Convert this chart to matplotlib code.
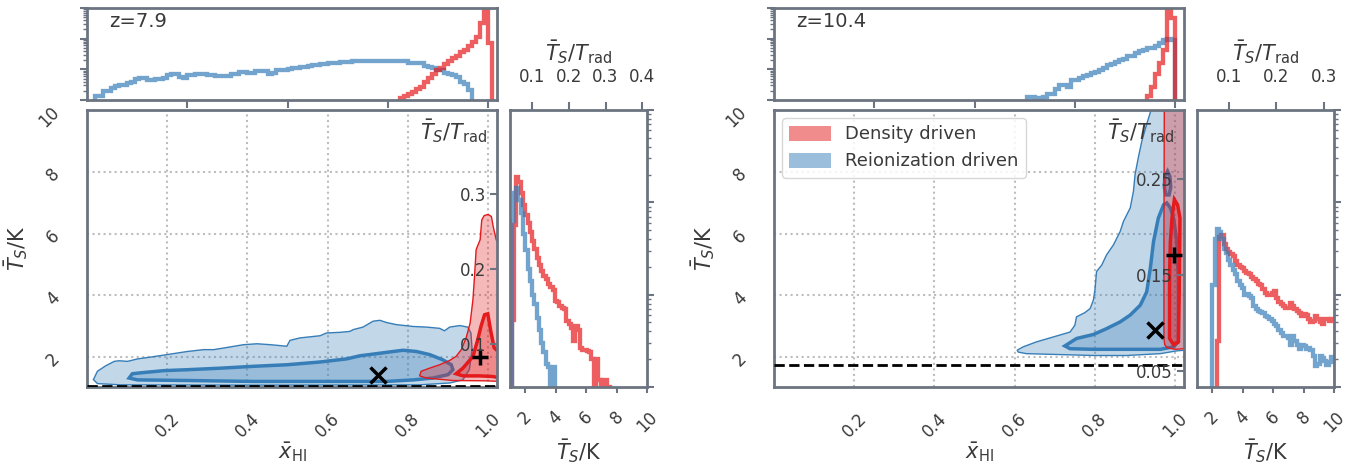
import numpy as np
import matplotlib
matplotlib.use('Agg')
import matplotlib.pyplot as plt
from matplotlib.patches import Patch
from matplotlib.colors import to_rgba

# ---------------------------------------------------------------- data
redshifts = [7.9, 10.4]
z_labels = ['z=7.9', 'z=10.4']
T_cmb0 = 2.725
dashed_T = [1.07, 1.73]

xHI_ticks = [0.2, 0.4, 0.6, 0.8, 1.0]
TS_ticks = [2, 4, 6, 8, 10]
top_ticks = [0.25, 0.5, 0.75, 1.0]
ratio_ticks_main = [[0.1, 0.2, 0.3], [0.05, 0.15, 0.25]]
ratio_ticks_hist = [[0.1, 0.2, 0.3, 0.4], [0.1, 0.2, 0.3]]

series_names = ['Density driven', 'Reionization driven']

# best-fit markers (x = reionization driven, + = density driven)
cross_xHI = [0.726, 0.950]
cross_TS = [1.43, 2.87]
plus_xHI = [0.980, 0.996]
plus_TS = [2.00, 5.31]

# ---- 2D credible contours (outer = 95%, inner = 68%), z = 7.9
z79_blue_outer_x = [0.016, 0.026, 0.047, 0.068, 0.080, 0.101, 0.126, 0.159, 0.200, 0.225, 0.250, 0.291,
                    0.316, 0.349, 0.390, 0.424, 0.457, 0.498, 0.506, 0.531, 0.581, 0.597, 0.630, 0.655,
                    0.664, 0.688, 0.713, 0.730, 0.746, 0.771, 0.813, 0.846, 0.879, 0.891, 0.904, 0.929,
                    0.949, 0.957, 0.960, 0.953, 0.937, 0.904, 0.829, 0.415, 0.084, 0.026]
z79_blue_outer_T = [1.27, 1.54, 1.72, 1.86, 1.88, 1.86, 1.94, 2.00, 2.08, 2.13, 2.18, 2.24,
                    2.24, 2.31, 2.40, 2.43, 2.40, 2.35, 2.54, 2.62, 2.69, 2.78, 2.80, 2.83,
                    2.89, 2.97, 3.16, 3.19, 3.12, 3.05, 2.99, 2.97, 2.93, 2.85, 2.97, 3.02,
                    2.97, 2.78, 2.24, 1.59, 1.26, 1.16, 1.10, 1.09, 1.10, 1.14]
z79_blue_inner_x = [0.105, 0.113, 0.142, 0.192, 0.250, 0.333, 0.415, 0.498, 0.581, 0.647, 0.680, 0.722,
                    0.763, 0.788, 0.821, 0.854, 0.887, 0.908, 0.912, 0.900, 0.862, 0.813, 0.746, 0.581,
                    0.415, 0.250, 0.126]
z79_blue_inner_T = [1.32, 1.46, 1.50, 1.56, 1.59, 1.64, 1.70, 1.75, 1.84, 1.94, 2.04, 2.11,
                    2.18, 2.22, 2.18, 2.08, 1.91, 1.75, 1.59, 1.43, 1.32, 1.26, 1.21, 1.21,
                    1.21, 1.24, 1.26]
z79_red_outer_x = [0.829, 0.833, 0.854, 0.879, 0.904, 0.920, 0.933, 0.945, 0.955, 0.962, 0.966, 0.970,
                   0.980, 0.984, 0.990, 1.000, 1.008, 1.013, 1.020, 1.050, 1.050, 0.995, 0.912, 0.846]
z79_red_outer_T = [1.39, 1.54, 1.64, 1.75, 1.89, 2.02, 2.24, 2.62, 3.10, 3.86, 4.62, 5.48,
                   5.80, 6.44, 6.58, 6.62, 6.55, 6.20, 5.80, 5.00, 1.20, 1.23, 1.24, 1.32]
z79_red_inner_x = [0.920, 0.937, 0.962, 0.974, 0.982, 0.991, 0.999, 1.007, 1.015, 1.040, 1.040, 1.011,
                   0.978, 0.937]
z79_red_inner_T = [1.46, 1.64, 2.02, 2.56, 2.99, 3.37, 3.40, 2.80, 2.30, 2.00, 1.30, 1.37,
                   1.39, 1.39]

# ---- 2D credible contours, z = 10.4
z104_blue_outer_x = [0.606, 0.621, 0.654, 0.696, 0.738, 0.750, 0.754, 0.775, 0.788, 0.796, 0.800, 0.804,
                     0.817, 0.829, 0.846, 0.863, 0.871, 0.888, 0.896, 0.900, 0.908, 0.917, 0.929, 0.938,
                     0.942, 1.050, 1.050, 1.004, 0.963, 0.879, 0.796, 0.713, 0.629, 0.609]
z104_blue_outer_T = [2.22, 2.33, 2.49, 2.65, 2.81, 3.03, 3.30, 3.44, 3.57, 3.84, 4.17, 4.77,
                     4.98, 5.31, 5.63, 6.07, 6.39, 6.83, 7.37, 7.91, 8.45, 9.00, 9.54, 9.92,
                     10.50, 10.50, 2.25, 2.20, 2.11, 2.05, 2.05, 2.08, 2.11, 2.16]
z104_blue_inner_x = [0.725, 0.754, 0.796, 0.829, 0.863, 0.888, 0.913, 0.929, 0.938, 0.946, 0.958, 0.971,
                     0.979, 0.988, 0.996, 1.004, 1.008, 1.008, 0.996, 0.963, 0.879, 0.796, 0.738]
z104_blue_inner_T = [2.36, 2.60, 2.73, 2.92, 3.14, 3.36, 3.68, 4.11, 4.87, 5.74, 6.50, 6.93,
                     6.99, 6.83, 6.50, 5.74, 4.50, 2.50, 2.33, 2.25, 2.25, 2.25, 2.27]
z104_blue_island_x = [0.981, 0.987, 0.989, 0.985, 0.977, 0.973, 0.974]
z104_blue_island_T = [8.02, 7.85, 7.50, 7.25, 7.25, 7.50, 7.85]
z104_red_outer_x = [0.973, 0.972, 0.972, 0.974, 0.980, 1.000, 1.050, 1.050]
z104_red_outer_T = [10.50, 6.00, 2.60, 2.40, 2.30, 2.25, 2.30, 10.50]
z104_red_inner_x = [0.986, 0.986, 0.988, 0.992, 0.998, 1.006, 1.012, 1.010, 1.008, 0.996]
z104_red_inner_T = [2.60, 4.66, 5.74, 6.50, 7.10, 6.93, 6.50, 4.00, 2.49, 2.40]

# ---- marginal histograms of x_HI (bin width 0.01), log10 of counts
xHI_bin_width = 0.01
z79_xHI_blue_start = 0.02
z79_xHI_blue_log = [0.14, 0.14, 0.29, 0.29, 0.40, 0.45, 0.48, 0.50, 0.55, 0.58,
                    0.70, 0.72, 0.72, 0.66, 0.64, 0.68, 0.70, 0.72, 0.81, 0.86,
                    0.85, 0.74, 0.73, 0.80, 0.82, 0.86, 0.85, 0.86, 0.81, 0.80,
                    0.79, 0.78, 0.77, 0.79, 0.84, 0.86, 0.92, 0.90, 0.89, 0.88,
                    0.94, 0.95, 0.93, 0.86, 0.88, 0.97, 0.97, 0.98, 1.00, 1.03,
                    1.05, 1.09, 1.09, 1.10, 1.14, 1.15, 1.17, 1.18, 1.22, 1.22,
                    1.22, 1.24, 1.24, 1.25, 1.28, 1.28, 1.27, 1.26, 1.26, 1.27,
                    1.26, 1.26, 1.27, 1.26, 1.28, 1.28, 1.28, 1.27, 1.22, 1.22,
                    1.20, 1.20, 1.12, 1.09, 1.05, 0.97, 0.97, 0.88, 0.84, 0.82,
                    0.75, 0.60, 0.53, 0.31]
z79_xHI_red_start = 0.78
z79_xHI_red_log = [0.05, 0.14, 0.18, 0.25, 0.35, 0.42, 0.59, 0.72, 0.85, 0.98, 1.05, 1.17,
                   1.26, 1.38, 1.45, 1.55, 1.62, 1.75, 1.88, 2.05, 2.50, 3.30, 1.86]
z104_xHI_blue_start = 0.63
z104_xHI_blue_log = [0.09, 0.09, 0.05, 0.05, 0.11, 0.20, 0.20, 0.37, 0.48, 0.48, 0.42, 0.64,
                     0.64, 0.73, 0.78, 0.81, 0.89, 0.90, 0.97, 1.05, 1.14, 1.16, 1.25, 1.30,
                     1.33, 1.44, 1.45, 1.53, 1.60, 1.64, 1.69, 1.70, 1.75, 1.86, 1.95, 1.99, 1.97]
z104_xHI_red_start = 0.93
z104_xHI_red_log = [0.14, 0.42, 0.86, 1.20, 1.64, 3.40, 2.69]

# ---- marginal histograms of T_S (bin width 0.15 K), log10 of counts
TS_bin_width = 0.15
z79_TS_blue_start = 1.10
z79_TS_blue_log = [1.80, 2.10, 2.16, 2.02, 1.88, 1.66, 1.48, 1.28, 1.15, 1.00, 0.90, 0.75,
                   0.62, 0.48, 0.38, 0.25, 0.22, 0.00, 0.22]
z79_TS_red_start = 1.10
z79_TS_red_log = [0.73, 1.75, 2.27, 2.22, 2.10, 1.97, 1.86, 1.78, 1.68, 1.58, 1.50, 1.40,
                  1.32, 1.26, 1.20, 1.17, 1.12, 1.08, 1.05, 0.93, 0.92, 0.88, 0.86, 0.84,
                  0.72, 0.68, 0.64, 0.50, 0.66, 0.62, 0.42, 0.40, 0.40, 0.39, 0.38, 0.30,
                  0.00, 0.30, 0.08, 0.00, 0.08, 0.08, 0.00]
z104_TS_blue_start = 2.00
z104_TS_blue_log = [1.10, 1.60, 1.71, 1.68, 1.60, 1.50, 1.45, 1.38, 1.32, 1.27, 1.22, 1.15,
                    1.10, 1.07, 1.00, 1.01, 0.99, 0.96, 0.88, 0.84, 0.82, 0.81, 0.80, 0.77,
                    0.76, 0.74, 0.72, 0.68, 0.66, 0.62, 0.59, 0.55, 0.55, 0.53, 0.45, 0.55,
                    0.50, 0.46, 0.41, 0.45, 0.44, 0.41, 0.42, 0.40, 0.34, 0.23, 0.25, 0.34,
                    0.31, 0.28, 0.24, 0.27, 0.33, 0.30]
z104_TS_red_start = 2.30
z104_TS_red_log = [0.50, 1.62, 1.65, 1.55, 1.50, 1.46, 1.44, 1.42, 1.36, 1.32, 1.30, 1.29,
                   1.26, 1.24, 1.22, 1.19, 1.17, 1.15, 1.12, 1.10, 1.06, 1.02, 1.00, 1.00,
                   1.02, 1.04, 0.96, 0.92, 0.90, 0.88, 0.86, 0.86, 0.91, 0.88, 0.84, 0.82,
                   0.80, 0.77, 0.79, 0.78, 0.74, 0.70, 0.72, 0.77, 0.74, 0.70, 0.68, 0.74,
                   0.74, 0.72, 0.74, 0.74]

panels = [
    dict(blue_outer=(z79_blue_outer_x, z79_blue_outer_T), blue_inner=(z79_blue_inner_x, z79_blue_inner_T),
         blue_islands=[],
         red_outer=(z79_red_outer_x, z79_red_outer_T), red_inner=(z79_red_inner_x, z79_red_inner_T),
         xhi_blue=(z79_xHI_blue_start, z79_xHI_blue_log), xhi_red=(z79_xHI_red_start, z79_xHI_red_log),
         ts_blue=(z79_TS_blue_start, z79_TS_blue_log), ts_red=(z79_TS_red_start, z79_TS_red_log)),
    dict(blue_outer=(z104_blue_outer_x, z104_blue_outer_T), blue_inner=(z104_blue_inner_x, z104_blue_inner_T),
         blue_islands=[(z104_blue_island_x, z104_blue_island_T)],
         red_outer=(z104_red_outer_x, z104_red_outer_T), red_inner=(z104_red_inner_x, z104_red_inner_T),
         xhi_blue=(z104_xHI_blue_start, z104_xHI_blue_log), xhi_red=(z104_xHI_red_start, z104_xHI_red_log),
         ts_blue=(z104_TS_blue_start, z104_TS_blue_log), ts_red=(z104_TS_red_start, z104_TS_red_log)),
]

# ---------------------------------------------------------------- style
RED = '#e41a1c'
BLUE = '#377eb8'
SPINE = '#6b7480'
TXT = '#3a3a3a'
plt.rcParams.update({
    'font.family': ['DejaVu Sans'],
    'mathtext.fontset': 'dejavusans',
    'axes.edgecolor': SPINE,
    'axes.linewidth': 2.0,
    'xtick.color': SPINE, 'ytick.color': SPINE,
    'xtick.labelcolor': TXT, 'ytick.labelcolor': TXT,
    'axes.labelcolor': TXT, 'text.color': TXT,
    'xtick.labelsize': 12, 'ytick.labelsize': 12,
})

W, H = 1353, 466
fig = plt.figure(figsize=(W / 100, H / 100), dpi=100)


def box(x0, y0, x1, y1):
    return [x0 / W, 1 - y1 / H, (x1 - x0) / W, (y1 - y0) / H]


layouts = [
    dict(main=box(87, 110, 497, 387), top=box(87, 8, 497, 100), side=box(510, 110, 647, 387)),
    dict(main=box(774, 110, 1184, 387), top=box(774, 8, 1184, 100), side=box(1197, 110, 1334, 387)),
]


def draw_stairs(ax, start, width, lg, color, orientation='vertical'):
    lg = np.asarray(lg, dtype=float)
    edges = start + width * np.arange(len(lg) + 1)
    ax.stairs(10 ** lg, edges, baseline=1e-3, color=color, lw=3.1, alpha=0.7,
              orientation=orientation)


def draw_region(ax, xy, color, lw, alpha=0.3):
    ax.fill(xy[0], xy[1], facecolor=to_rgba(color, alpha), edgecolor=color, lw=lw, zorder=2)


for k, (z, P, L) in enumerate(zip(redshifts, panels, layouts)):
    Trad = T_cmb0 * (1 + z)
    # ---------------- main panel
    ax = fig.add_axes(L['main'])
    ax.set_xlim(0, 1.022)
    ax.set_ylim(1.03, 10)
    draw_region(ax, P['blue_outer'], BLUE, 1.0)
    draw_region(ax, P['blue_inner'], BLUE, 2.5)
    for isl in P['blue_islands']:
        draw_region(ax, isl, BLUE, 2.5)
    draw_region(ax, P['red_outer'], RED, 1.0)
    draw_region(ax, P['red_inner'], RED, 2.5)
    ax.axhline(dashed_T[k], color='k', ls='--', lw=2, zorder=3)
    ax.plot(cross_xHI[k], cross_TS[k], 'x', color='k', ms=11, mew=2.5, zorder=5)
    ax.plot(plus_xHI[k], plus_TS[k], '+', color='k', ms=12, mew=2.5, zorder=5)
    ax.grid(True, ls=':', color='#bdbdbd', lw=1.5, zorder=0)
    ax.set_axisbelow(True)
    ax.set_xticks(xHI_ticks, labels=[f'{v:.1f}' for v in xHI_ticks])
    ax.set_yticks(TS_ticks, labels=[f'{v:d}' for v in TS_ticks])
    ax.tick_params(axis='x', length=0, pad=16, labelrotation=45)
    ax.tick_params(axis='y', length=0, pad=17, labelrotation=45)
    ax.set_xlabel(r'$\bar{x}_{\rm HI}$', fontsize=15, labelpad=0)
    ax.set_ylabel(r'$\bar{T}_S/{\rm K}$', fontsize=15, labelpad=4)
    sec = ax.secondary_yaxis('right', functions=(lambda t, Tr=Trad: t / Tr, lambda r, Tr=Trad: r * Tr))
    sec.set_zorder(10)
    sec.set_yticks(ratio_ticks_main[k], labels=[f'{v:g}' for v in ratio_ticks_main[k]])
    sec.tick_params(axis='y', direction='in', length=5, width=1.5, pad=-8, color=SPINE, labelsize=12)
    for lab in sec.get_yticklabels():
        lab.set_horizontalalignment('right')
    sec.spines['right'].set_visible(False)
    ax.text(0.976, 0.975, r'$\bar{T}_S/T_{\rm rad}$', transform=ax.transAxes, ha='right', va='top',
            fontsize=15, zorder=6)
    if k == 1:
        handles = [Patch(facecolor=to_rgba(RED, 0.5), edgecolor='none'),
                   Patch(facecolor=to_rgba(BLUE, 0.5), edgecolor='none')]
        leg = ax.legend(handles, series_names, loc='upper left', fontsize=13, frameon=True,
                        edgecolor='#d0d0d0', framealpha=0.85, handlelength=2.3, handleheight=0.9,
                        borderaxespad=0.45)
        leg.set_zorder(7)

    # ---------------- top histogram (x_HI)
    axt = fig.add_axes(L['top'])
    axt.set_xlim(0, 1.022)
    axt.set_yscale('log')
    axt.set_ylim(1, 1000)
    draw_stairs(axt, P['xhi_blue'][0], xHI_bin_width, P['xhi_blue'][1], BLUE)
    draw_stairs(axt, P['xhi_red'][0], xHI_bin_width, P['xhi_red'][1], RED)
    axt.set_xticks(top_ticks)
    axt.tick_params(axis='x', direction='out', length=6, width=1.5, labelbottom=False)
    axt.tick_params(axis='y', which='major', direction='out', length=5, width=1.5, labelleft=False)
    axt.tick_params(axis='y', which='minor', direction='out', length=3, width=1.0, labelleft=False)
    axt.text(0.053, 0.96, z_labels[k], transform=axt.transAxes, ha='left', va='top', fontsize=14)

    # ---------------- side histogram (T_S)
    axh = fig.add_axes(L['side'])
    axh.set_xlim(1, 10)
    axh.set_yscale('log')
    axh.set_ylim(1, 1000)
    draw_stairs(axh, P['ts_red'][0], TS_bin_width, P['ts_red'][1], RED)
    draw_stairs(axh, P['ts_blue'][0], TS_bin_width, P['ts_blue'][1], BLUE)
    axh.yaxis.tick_right()
    axh.tick_params(axis='y', which='major', direction='out', length=5, width=1.5,
                    labelright=False, labelleft=False)
    axh.tick_params(axis='y', which='minor', direction='out', length=3, width=1.0,
                    labelright=False, labelleft=False)
    axh.set_xticks(TS_ticks, labels=[f'{v:d}' for v in TS_ticks])
    axh.tick_params(axis='x', direction='out', length=4, width=1.5, pad=11, labelrotation=45)
    axh.set_xlabel(r'$\bar{T}_S/{\rm K}$', fontsize=15, labelpad=1)
    secx = axh.secondary_xaxis('top', functions=(lambda t, Tr=Trad: t / Tr, lambda r, Tr=Trad: r * Tr))
    secx.set_xticks(ratio_ticks_hist[k], labels=[f'{v:g}' for v in ratio_ticks_hist[k]])
    secx.tick_params(axis='x', direction='out', length=6, width=1.5, pad=11, color=SPINE, labelsize=12)
    secx.spines['top'].set_visible(False)
    secx.set_xlabel(r'$\bar{T}_S/T_{\rm rad}$', fontsize=15, labelpad=6)

fig.savefig('out.png', dpi=100)
